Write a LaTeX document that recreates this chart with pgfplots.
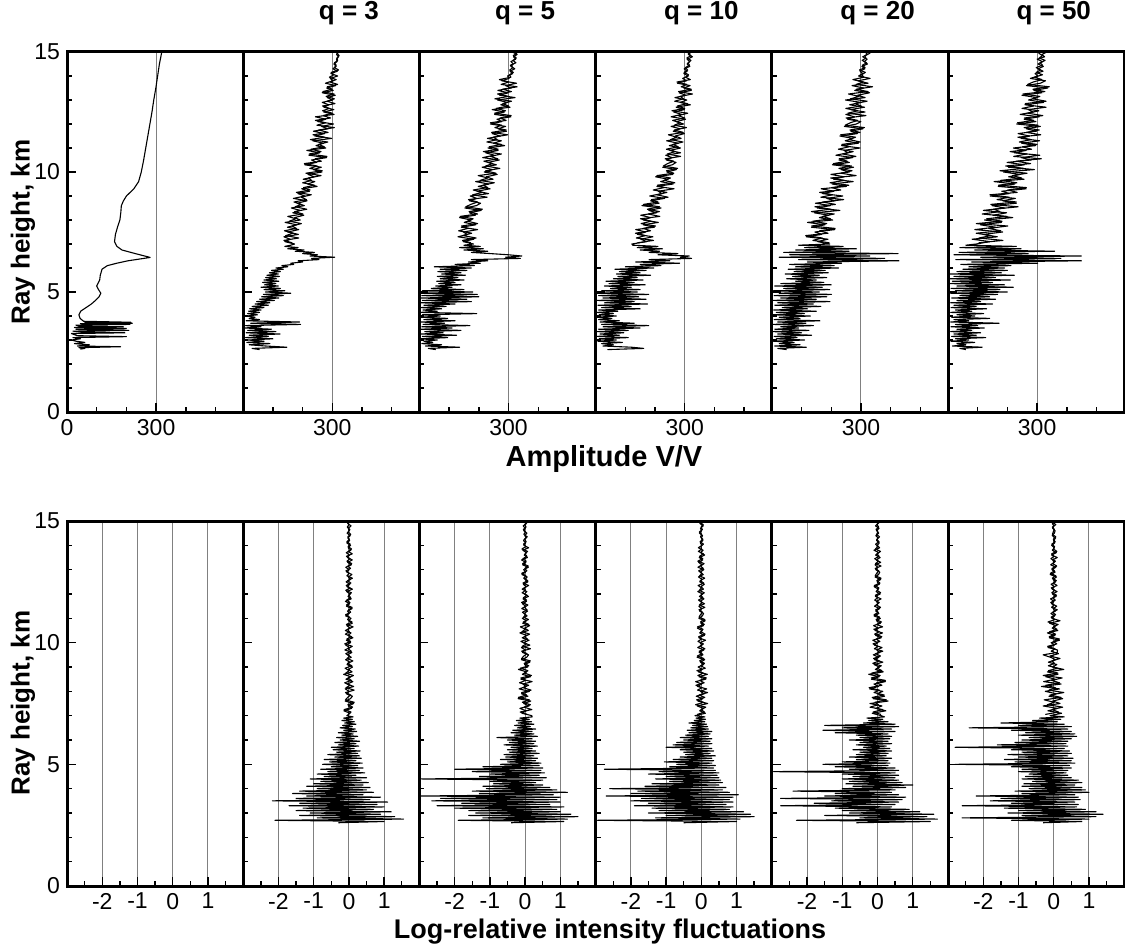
\documentclass[border=0pt]{standalone}
\usepackage{fontspec}
\setmainfont{Liberation Sans}
\usepackage{pgfplots}
\usepackage{pgfplotstable}
\pgfplotsset{compat=1.18}

% amplitude profiles, q = 3, 5, 10, 20, 50
\pgfplotstableread{
y a3 a5 a10 a20 a50
15.0 322 313 322 314 333
14.9 314 329 312 322 316
14.8 321 317 326 306 325
14.7 314 324 308 321 300
14.6 316 308 317 311 318
14.5 305 316 308 322 303
14.4 313 308 317 303 321
14.3 302 321 298 313 303
14.2 317 305 308 297 320
14.1 295 314 297 306 293
14.0 318 297 312 292 303
13.9 293 302 293 331 277
13.8 302 277 306 290 328
13.7 277 327 275 324 311
13.6 311 290 318 270 264
13.5 281 309 297 309 336
13.4 303 264 322 279 289
13.3 266 299 281 329 316
13.2 310 270 304 289 249
13.1 283 322 267 314 299
13.0 301 263 307 248 271
12.9 266 296 285 300 322
12.8 288 274 319 262 259
12.7 272 305 271 312 330
12.6 305 245 299 265 270
12.5 271 286 263 314 287
12.4 306 253 290 249 243
12.3 243 308 254 278 307
12.2 278 261 303 255 256
12.1 251 277 272 300 296
12.0 304 239 296 285 231
11.9 264 290 254 244 311
11.8 285 265 284 307 264
11.7 236 293 261 266 297
11.6 274 245 299 288 236
11.5 241 272 268 229 274
11.4 298 229 288 273 246
11.3 234 276 239 247 308
11.2 270 249 278 291 248
11.1 245 287 248 235 295
11.0 278 231 286 297 220
10.9 214 265 250 243 263
10.8 258 223 286 256 223
10.7 221 252 236 216 309
10.6 281 213 257 272 247
10.5 230 269 238 226 279
10.4 247 231 271 261 199
10.3 207 259 258 204 257
10.2 263 211 226 275 203
10.1 236 246 272 233 291
10.0 265 218 240 261 187
9.9 218 262 260 199 242
9.8 239 225 202 243 204
9.7 202 248 244 208 256
9.6 241 189 219 274 155
9.5 217 233 261 203 225
9.4 249 198 206 251 169
9.3 197 238 264 166 263
9.2 223 194 211 209 181
9.1 184 233 223 171 206
9.0 208 171 182 239 142
8.9 169 193 232 185 227
8.8 215 168 185 213 184
8.7 182 206 214 147 230
8.6 206 192 156 197 148
8.5 162 153 220 153 191
8.4 192 208 179 229 119
8.3 167 169 205 143 197
8.2 204 188 152 192 152
8.1 173 135 185 160 218
8.0 192 174 160 205 123
7.9 141 151 211 120 180
7.8 180 190 160 179 109
7.7 149 141 198 133 160
7.6 187 196 135 212 90
7.5 150 148 169 145 184
7.4 186 161 141 168 119
7.3 137 130 193 116 166
7.2 158 183 152 189 81
7.1 140 147 172 154 141
7.0 173 182 122 195 95
6.95 160 150 125 90 60
6.90 140 205 210 240 230
6.85 185 135 140 110 40
6.80 150 215 225 285 246
6.75 205 150 150 80 90
6.70 175 230 215 260 359
6.65 240 175 180 40 37
6.60 200 240 277 425 270
6.55 250 300 210 60 20
6.50 225 345 315 330 449
6.45 308 290 285 25 110
6.40 230 340 323 380 380
6.35 255 175 180 90 26
6.30 185 230 250 428 449
6.25 200 165 135 120 80
6.20 160 205 283 235 302
6.15 170 120 150 60 43
6.10 130 185 220 210 212
6.05 150 50 100 80 70
6.00 110 175 196 225 190
5.95 135 70 65 55 50
5.90 95 160 170 180 200
5.85 125 62 80 75 30
5.80 88 140 150 190 180
5.75 118 75 70 45 5
5.70 80 155 185 160 223
5.65 122 60 75 70 20
5.60 75 130 140 185 160
5.55 112 70 60 50 3
5.50 70 150 160 150 210
5.45 120 58 35 80 15
5.40 65 120 130 175 150
5.35 110 65 45 30 6
5.30 72 140 167 200 190
5.25 118 55 30 10 30
5.20 60 110 120 170 220
5.15 125 40 50 40 10
5.10 70 150 150 195 175
5.05 140 10 20 5 25
5.00 75 180 140 160 200
4.95 160 5 3 25 9
4.90 68 195 179 201 167
4.85 135 8 10 8 40
4.80 62 200 145 185 140
4.75 120 3 25 30 12
4.70 55 160 170 150 160
4.65 105 10 6 5 30
4.60 45 175 130 196 110
4.55 90 5 30 20 9
4.50 40 120 175 140 150
4.45 85 15 8 10 20
4.40 30 90 120 165 95
4.35 70 5 20 35 10
4.30 22 75 150 120 130
4.25 60 12 10 6 25
4.20 18 60 75 150 80
4.15 55 4 5 15 9
4.10 15 193 60 110 120
4.05 48 10 12 4 30
4.00 12 70 70 130 90
3.95 40 6 4 25 12
3.90 20 95 55 95 140
3.85 55 15 10 8 20
3.80 10 120 80 162 70
3.75 190 5 15 20 9
3.70 25 85 130 115 172
3.65 193 12 20 5 25
3.60 8 170 179 140 100
3.55 60 8 25 30 10
3.50 5 110 150 90 122
3.45 95 4 10 10 30
3.40 15 140 110 125 80
3.35 110 18 6 3 9
3.30 10 80 95 100 110
3.25 124 6 15 20 20
3.20 20 125 80 134 95
3.15 85 10 5 8 12
3.10 8 95 110 85 127
3.05 100 3 12 15 25
3.00 15 60 70 110 70
2.95 70 15 8 5 10
2.90 12 45 90 75 90
2.85 90 8 20 25 30
2.80 20 75 60 95 60
2.75 75 20 25 10 15
2.70 147 135 120 116 115
2.65 30 30 162 20 40
2.60 55 55 40 50 60
}\amptab

% amplitude samples between the 0.1 km rows above 7 km
\pgfplotstableread{
y a3 a5 a10 a20 a50
14.95 315 328 311 331 305
14.85 323 316 321 313 318
14.75 315 326 307 317 307
14.65 318 315 321 304 327
14.55 307 325 311 319 310
14.45 313 306 316 305 318
14.35 307 315 302 314 297
14.25 321 304 310 295 311
14.15 296 316 298 315 297
14.05 305 303 313 302 318
13.95 290 308 303 310 291
13.85 313 269 319 273 316
13.75 292 301 274 308 287
13.65 318 275 307 284 268
13.55 283 329 288 339 341
13.45 299 280 322 284 286
13.35 268 310 279 324 326
13.25 306 263 326 258 252
13.15 279 300 285 294 309
13.05 307 254 296 265 285
12.95 282 310 266 321 330
12.85 309 281 309 279 260
12.75 267 300 275 301 288
12.65 290 258 300 249 249
12.55 267 290 257 289 306
12.45 300 253 310 256 268
12.35 269 309 278 317 319
12.25 294 271 300 250 257
12.15 243 292 259 289 288
12.05 277 239 285 264 234
11.95 248 277 265 247 303
11.85 307 254 306 312 256
11.75 254 292 265 263 307
11.65 286 243 295 297 264
11.55 235 297 245 232 312
11.45 274 249 273 282 235
11.35 226 262 252 260 280
11.25 285 227 294 298 240
11.15 254 276 261 236 300
11.05 273 235 278 260 251
10.95 228 265 238 224 281
10.85 262 215 268 274 209
10.75 222 276 241 239 265
10.65 282 239 286 283 221
10.55 242 264 234 227 314
10.45 263 217 263 254 229
10.35 206 246 242 207 278
10.25 249 223 228 268 194
10.15 224 271 276 226 255
10.05 266 223 238 270 175
9.95 211 258 263 232 266
9.85 262 198 206 284 217
9.75 220 230 252 198 248
9.65 230 204 231 244 177
9.55 200 252 267 196 232
9.45 240 214 208 259 170
9.35 203 230 230 201 264
9.25 225 181 194 232 201
9.15 179 212 240 161 233
9.05 229 179 206 204 141
8.95 195 228 244 165 206
8.85 213 165 188 242 165
8.75 171 196 210 171 230
8.65 195 173 161 214 144
8.55 175 156 215 145 236
8.45 214 212 174 198 154
8.35 173 167 215 133 175
8.25 201 196 177 210 115
8.15 150 137 216 171 199
8.05 177 181 151 198 130
7.95 155 162 187 138 182
7.85 196 196 153 185 95
7.75 164 142 202 134 201
7.65 179 163 160 213 137
7.55 139 132 185 161 178
7.45 168 176 134 189 95
7.35 143 147 167 114 144
7.25 187 191 137 170 104
7.15 137 145 195 138 185
7.05 165 173 141 194 103
}\ampmid

% log-relative intensity fluctuations, q = 3, 5, 10, 20, 50
\pgfplotstableread{
y l3 l5 l10 l20 l50
15.0 0.045 -0.021 0.012 -0.045 0.054
14.9 -0.036 0.042 -0.042 0.009 -0.042
14.8 0.06 -0.054 0.054 -0.057 0.003
14.7 -0.018 0.003 -0.024 0.042 -0.03
14.6 0.006 -0.036 0.006 -0.018 0.039
14.5 -0.051 0.051 -0.054 0.033 0.018
14.4 0.036 -0.009 0.036 -0.048 -0.042
14.3 -0.03 0.027 -0.003 0.015 0.054
14.2 0.024 -0.048 0.048 -0.027 -0.006
14.1 -0.06 0.015 -0.03 0.051 0.03
14.0 0.048 -0.033 0.018 -0.006 -0.057
13.9 -0.02 0.1 -0.085 0.06 0.02
13.8 0.055 -0.065 0.05 -0.1 -0.04
13.7 -0.075 0.035 -0.02 0.035 0.075
13.6 0.015 -0.025 0.095 -0.055 -0.06
13.5 -0.045 0.065 -0.06 0.075 0.1
13.4 0.095 -0.1 0.04 -0.035 -0.03
13.3 -0.035 0.02 -0.075 0.09 0.01
13.2 0.07 -0.07 0.015 -0.07 -0.085
13.1 -0.09 0.09 -0.095 0.005 0.06
13.0 0.005 -0.04 0.07 -0.05 -0.05
12.9 -0.06 0.01 -0.03 0.065 0.04
12.8 0.085 -0.09 0.055 0.03 -0.1
12.7 -0.015 0.06 -0.08 -0.07 0.08
12.6 0.045 -0.005 0.025 0.09 -0.02
12.5 -0.08 0.08 -0.045 -0.01 0.055
12.4 0.025 -0.05 0.085 0.05 -0.075
12.3 -0.055 0.03 -0.01 -0.095 0.015
12.2 0.1 -0.085 0.06 0.02 -0.045
12.1 -0.065 0.05 -0.1 -0.04 0.095
12.0 0.035 -0.02 0.035 0.075 -0.035
11.9 -0.025 0.095 -0.055 -0.06 0.07
11.8 0.065 -0.06 0.075 0.1 -0.09
11.7 -0.1 0.04 -0.035 -0.03 0.005
11.6 0.02 -0.075 0.09 0.01 -0.06
11.5 -0.07 0.015 -0.07 -0.085 0.085
11.4 0.09 -0.095 0.005 0.06 -0.015
11.3 -0.04 0.07 -0.05 -0.05 0.045
11.2 0.01 -0.03 0.065 0.04 -0.08
11.1 -0.09 0.055 0.03 -0.1 0.025
11.0 0.06 -0.08 -0.07 0.08 -0.055
10.9 -0.006 0.038 0.108 -0.03 0.18
10.8 0.096 -0.068 -0.012 0.083 -0.117
10.7 -0.06 0.128 0.06 -0.113 0.063
10.6 0.036 -0.015 -0.114 0.023 -0.045
10.5 -0.102 0.09 0.024 -0.068 0.117
10.4 0.06 -0.15 -0.048 0.143 -0.18
10.3 -0.024 0.053 0.09 -0.053 0.036
10.2 0.114 -0.083 -0.072 0.105 -0.126
10.1 -0.072 0.113 0.12 -0.135 0.162
10.0 0.048 -0.053 -0.036 0.008 -0.072
9.9 -0.09 0.135 0.012 -0.09 0.018
9.8 0.018 -0.105 -0.102 0.128 -0.162
9.7 -0.114 0.008 0.072 -0.023 0.108
9.6 0.084 -0.075 -0.06 0.068 0.1
9.5 -0.036 0.098 0.048 -0.12 -0.3
9.4 0.066 0.045 -0.12 0.038 -0.09
9.3 -0.096 -0.105 0.096 -0.083 0.054
9.2 0.03 0.135 -0.024 0.15 -0.153
9.1 -0.054 -0.015 0.066 -0.098 0.09
9.0 0.102 0.075 -0.09 0.053 -0.036
8.9 -0.015 -0.19 0.027 -0.063 0.285
8.8 0.09 0.04 -0.081 0.163 -0.18
8.7 -0.15 -0.08 0.171 -0.25 0.12
8.6 0.053 0.15 -0.063 0.05 -0.225
8.5 -0.083 -0.12 0.126 -0.175 0.045
8.4 0.113 0.2 -0.162 0.225 -0.285
8.3 -0.053 -0.06 0.009 -0.1 0.21
8.2 0.135 0.02 -0.108 0.025 -0.35
8.1 -0.105 -0.17 0.153 -0.225 0.165
8.0 0.008 0.12 -0.027 0.15 -0.24
7.9 -0.075 -0.1 0.081 -0.013 0.075
7.8 0.098 0.08 -0.144 0.2 -0.135
7.7 0.045 -0.2 0.045 -0.125 0.255
7.6 -0.105 0.16 -0.099 0.3 -0.03
7.5 0.135 -0.04 0.18 -0.213 0.18
7.4 -0.015 0.11 -0.117 0.125 -0.3
7.3 0.075 -0.15 0.063 -0.05 0.105
7.2 -0.143 0.03 -0.045 0.238 -0.165
7.1 0.03 -0.09 0.117 -0.15 0.225
7.0 -0.06 0.19 -0.18 0.1 -0.105
6.95 0.12 0.2 0.1 0.2 0.3
6.90 -0.15 -0.15 -0.15 -0.3 -0.4
6.85 0.10 0.12 0.12 0.15 0.2
6.80 -0.2 -0.25 -0.2 -0.25 -0.6
6.75 0.15 0.18 0.1 0.3 0.1
6.70 -0.12 -0.2 -0.35 -0.4 -1.5
6.65 0.2 0.25 0.15 0.5 0.3
6.60 -0.18 -0.3 -0.25 -1.5 -1.0
6.55 0.1 0.15 0.18 0.6 0.5
6.50 -0.25 -0.22 -0.3 -1.0 -2.4
6.45 0.18 0.3 0.2 0.4 0.4
6.40 -0.15 -0.35 -0.4 -1.55 -1.2
6.35 0.22 0.2 0.3 0.5 0.5
6.30 -0.3 -0.4 -0.35 -1.2 -0.8
6.25 0.12 0.25 0.25 0.3 0.6
6.20 -0.2 -0.3 -0.45 -0.6 -1.0
6.15 0.25 0.35 0.2 0.4 0.65
6.10 -0.35 -0.8 -0.6 -0.5 -0.7
6.05 0.15 0.2 0.3 0.35 0.5
6.00 -0.25 -0.5 -0.5 -0.8 -0.9
5.95 0.3 0.3 0.25 0.3 0.4
5.90 -0.4 -0.45 -0.7 -0.5 -1.1
5.85 0.2 0.25 0.3 0.4 0.35
5.80 -0.3 -0.6 -0.8 -0.6 -1.6
5.75 0.28 0.35 0.2 0.25 0.4
5.70 -0.5 -0.4 -1.0 -0.4 -2.8
5.65 0.15 0.2 0.3 0.35 0.3
5.60 -0.45 -0.5 -0.6 -0.7 -1.2
5.55 0.32 0.3 0.35 0.4 0.45
5.50 -0.35 -0.45 -0.5 -0.5 -0.9
5.45 0.25 0.4 0.25 0.3 0.5
5.40 -0.6 -0.6 -0.45 -0.6 -1.3
5.35 0.3 0.25 0.4 0.25 0.4
5.30 -0.4 -0.55 -0.6 -0.8 -1.0
5.25 0.35 0.35 0.3 0.4 0.55
5.20 -0.7 -0.7 -0.8 -0.6 -1.4
5.15 0.2 0.3 0.35 0.3 0.5
5.10 -0.55 -0.5 -1.05 -1.0 -1.1
5.05 0.38 0.45 0.3 0.35 0.6
5.00 -0.75 -0.7 -0.7 -1.55 -2.8
4.95 0.25 0.4 0.4 0.3 0.45
4.90 -0.5 -1.2 -0.9 -1.2 -1.2
4.85 0.4 0.5 0.35 0.5 0.5
4.80 -0.8 -2.0 -2.75 -0.8 -0.9
4.75 0.3 0.45 0.4 0.6 0.4
4.70 -0.6 -1.5 -1.2 -2.95 -1.0
4.65 0.45 0.55 0.5 0.5 0.35
4.60 -0.9 -1.0 -1.5 -1.0 -0.7
4.55 0.2 0.4 0.45 0.6 0.4
4.50 -0.7 -1.3 -1.0 -0.7 -0.8
4.45 0.5 0.6 0.5 0.5 0.5
4.40 -1.1 -2.95 -1.3 -1.0 -0.9
4.35 0.35 0.5 0.55 0.6 0.7
4.30 -0.8 -1.0 -0.9 -0.8 -0.6
4.25 0.55 0.3 0.6 0.7 0.8
4.20 -1.0 -0.9 -1.4 -0.9 -0.85
4.15 0.4 0.5 0.5 1.0 0.6
4.10 -1.2 -1.2 -1.6 -0.7 -0.9
4.05 0.6 0.7 0.7 0.8 0.8
4.00 -0.9 -1.1 -2.6 -1.0 -0.7
3.95 0.5 0.9 0.6 0.5 0.9
3.90 -1.4 -1.5 -1.8 -2.4 -1.1
3.85 0.7 1.2 0.8 0.4 1.0
3.80 -1.6 -1.3 -2.0 -1.2 -0.9
3.75 0.4 0.8 1.05 0.6 0.6
3.70 -1.2 -2.95 -2.7 -1.5 -2.2
3.65 0.9 1.0 0.9 0.8 0.7
3.60 -1.5 -2.4 -1.7 -2.75 -1.5
3.55 0.6 0.9 0.8 0.7 0.75
3.50 -2.17 -2.65 -2.0 -1.3 -1.8
3.45 1.1 1.0 0.9 0.6 0.6
3.40 -1.4 -1.8 -1.5 -1.8 -1.2
3.35 0.8 0.7 0.7 0.5 0.7
3.30 -1.7 -2.5 -1.9 -2.75 -2.6
3.25 1.0 1.1 0.9 0.4 0.65
3.20 -1.3 -2.0 -1.4 -1.2 -1.4
3.15 0.7 0.9 0.8 0.9 0.9
3.10 -1.5 -1.6 -1.2 -1.0 -1.0
3.05 1.2 1.0 1.2 1.2 1.2
3.00 -1.1 -1.4 -1.5 -0.8 -1.3
2.95 0.9 1.3 1.4 1.6 1.4
2.90 -1.4 -1.6 -1.0 -1.5 -0.9
2.85 1.3 1.5 1.5 1.4 1.2
2.80 -0.9 -1.2 -1.3 -0.5 -2.6
2.75 1.55 1.2 1.1 1.7 1.0
2.70 -2.1 -1.9 -2.95 -2.3 -1.2
2.65 1.0 1.1 1.0 1.5 0.8
2.60 -0.3 -0.4 -0.5 -0.6 -0.3
}\logtab

% intensity samples between the 0.1 km rows above 7 km
\pgfplotstableread{
y l3 l5 l10 l20 l50
14.95 -0.036 0.048 -0.042 0.048 -0.033
14.85 0.003 -0.015 0.054 -0.012 0.06
14.75 -0.048 0.027 -0.006 0.033 -0.039
14.65 0.03 -0.051 0.03 -0.045 0.021
14.55 -0.018 0.006 -0.057 0.009 -0.015
14.45 0.051 -0.036 0.012 -0.027 -0.039
14.35 -0.03 0.06 -0.024 0.057 0.06
14.25 0.012 -0.021 0.045 -0.021 -0.012
14.15 -0.057 0.033 -0.036 0.042 0.042
14.05 0.036 -0.045 0.06 -0.054 -0.054
13.95 -0.024 0.021 -0.018 0.003 0.024
13.85 0.075 -0.09 0.01 -0.06 -0.01
13.75 -0.015 0.07 -0.085 0.085 0.09
13.65 0.095 -0.005 0.06 -0.015 -0.06
13.55 -0.07 0.05 -0.05 0.045 0.005
13.45 0.03 -0.065 0.04 -0.08 -0.08
13.35 -0.055 0.03 -0.1 0.025 0.05
13.25 0.08 -0.07 0.08 -0.055 -0.03
13.15 -0.025 0.09 -0.02 0.1 0.085
13.05 0.045 -0.01 0.055 -0.065 -0.05
12.95 -0.085 0.05 -0.075 0.035 0.02
12.85 0.01 -0.095 0.015 -0.025 -0.095
12.75 -0.06 0.02 -0.045 -0.065 0.06
12.65 0.1 -0.04 0.095 0.1 -0.04
12.55 -0.035 0.075 -0.035 -0.02 0.075
12.45 0.055 -0.06 0.07 0.07 -0.015
12.35 -0.075 0.1 -0.09 -0.09 0.095
12.25 0.035 -0.03 0.005 0.04 -0.07
12.15 -0.09 0.01 -0.06 -0.01 0.03
12.05 0.07 -0.085 0.085 0.09 -0.055
11.95 -0.005 0.06 -0.015 -0.06 0.08
11.85 0.05 -0.05 0.045 0.005 -0.025
11.75 -0.065 0.04 -0.08 -0.08 0.045
11.65 0.03 -0.1 0.025 0.05 -0.085
11.55 -0.07 0.08 -0.055 -0.03 0.01
11.45 0.09 -0.02 0.1 0.085 -0.06
11.35 -0.01 0.055 -0.065 -0.05 0.1
11.25 0.05 -0.075 0.035 0.02 -0.035
11.15 -0.095 0.015 -0.025 -0.095 0.055
11.05 0.02 -0.045 -0.065 0.06 -0.075
10.95 -0.04 0.095 0.1 -0.04 0.035
10.85 0.09 -0.053 -0.024 0.113 -0.162
10.75 -0.072 0.105 0.084 -0.023 0.126
10.65 0.12 -0.135 -0.108 0.143 -0.009
10.55 -0.036 0.008 0.048 -0.105 0.09
10.45 0.012 -0.09 -0.012 0.045 -0.117
10.35 -0.102 0.128 0.108 -0.083 0.054
10.25 0.072 -0.023 -0.072 0.12 -0.126
10.15 -0.06 0.068 0.006 -0.038 0.162
10.05 0.048 -0.12 -0.096 0.068 -0.018
9.95 -0.12 0.038 0.06 -0.128 0.09
9.85 0.096 -0.083 -0.036 0.015 -0.171
9.75 -0.024 0.15 0.102 -0.09 0.036
9.65 0.066 -0.098 -0.06 0.15 -0.072
9.55 -0.09 0.053 0.024 -0.053 0.135
9.45 0.018 -0.038 -0.114 0.083 -0.108
9.35 -0.054 -0.098 0.072 -0.113 0.18
9.25 0.114 0.15 -0.048 0.053 -0.054
9.15 -0.042 -0.03 0.09 -0.135 0.018
9.05 0.084 0.105 -0.018 0.105 -0.153
8.95 -0.108 -0.135 0.114 -0.008 0.108
8.85 0.008 0.08 -0.126 0.125 -0.15
8.75 -0.09 -0.02 0.054 -0.163 0.12
8.65 0.128 0.18 -0.099 0.075 -0.3
8.55 -0.023 -0.12 0.144 -0.175 0.24
8.45 0.068 0.01 -0.045 0.225 -0.06
8.35 -0.12 -0.16 0.081 -0.025 0.165
8.25 0.038 0.1 -0.153 0.125 -0.225
8.15 -0.083 -0.06 0.018 -0.238 0.045
8.05 0.15 0.17 -0.108 0.05 -0.135
7.95 -0.098 -0.1 0.18 -0.1 0.285
7.85 0.053 0.04 -0.063 0.188 -0.105
7.75 -0.038 -0.19 0.099 -0.15 0.21
7.65 -0.098 0.12 -0.135 0.25 -0.27
7.55 0.15 -0.08 0.063 -0.075 0.015
7.45 -0.03 0.15 -0.162 0.025 -0.18
7.35 0.105 -0.03 0.126 -0.213 0.255
7.25 -0.135 0.19 -0.009 0.15 -0.045
7.15 0.06 -0.14 0.09 -0.125 0.135
7.05 -0.015 0.06 -0.117 0.1 -0.24
}\logmid

\pgfplotsset{
  panel/.style={scale only axis, width=88.1pt, anchor=south west,
    ymin=0, ymax=15, axis line style={line width=1.5pt},
    tick align=inside, xtick pos=bottom, ytick pos=left,
    ytick={0,5,10,15}, minor ytick={1,2,3,4,6,7,8,9,11,12,13,14}, yticklabels={},
    major tick length=4.5pt, minor tick length=2.5pt,
    tick style={black, line width=0.7pt},
    xmajorgrids, major grid style={gray, line width=0.5pt},
    tick label style={font=\fontsize{11.5}{13}\selectfont}},
  amp/.style={panel, height=180pt, xmin=0, xmax=593,
    xtick={300}, xticklabels={300}, minor xtick={0,100,200,400,500}},
  lrf/.style={panel, height=182.5pt, xmin=-3, xmax=2,
    xtick={-2,-1,0,1}, xticklabels={-2,-1,0,1}, minor xtick={-2.5,-1.5,-0.5,0.5,1.5}},
  qtitle/.style={title={#1}, title style={at={(0.6,1)}, anchor=base, yshift=10pt,
    font=\bfseries\fontsize{13}{15}\selectfont}},
  prof/.style={black, line width=0.55pt, line join=round, no marks}
}

\begin{document}
\begin{tikzpicture}
\useasboundingbox (0,0) rectangle (562.5pt,475pt);

% top row: amplitude
\begin{axis}[amp, at={(33.5pt,269pt)}, xtick={0,300}, xticklabels={0,300}, yticklabels={0,5,10,15}]
\addplot[prof] coordinates {(319,15) (311,14.5) (305,14) (299,13.5) (292,13) (286,12.5) (279,12)
 (272,11.5) (265,11) (258,10.5) (250,10) (241,9.6) (225,9.3) (200,9.0) (190,8.8) (183,8.6)
 (181,8.3) (178,8.0) (170,7.7) (163,7.4) (160,7.1) (168,6.9) (185,6.75) (230,6.6) (280,6.44)
 (205,6.3) (168,6.2) (136,6.1) (118,5.95) (112,5.7) (110,5.5) (100,5.25) (106,5.1) (114,4.95)
 (108,4.8) (96,4.65) (82,4.5) (64,4.35) (46,4.2) (40,4.05) (44,3.9) (56,3.78) (215,3.74)
 (60,3.72) (220,3.70) (45,3.68) (212,3.65) (30,3.62) (40,3.58) (190,3.55) (25,3.52) (200,3.48)
 (30,3.45) (208,3.40) (20,3.37) (50,3.33) (195,3.30) (15,3.27) (25,3.22) (35,3.18) (200,3.14)
 (20,3.10) (45,3.05) (15,3.0) (30,2.95) (60,2.9) (25,2.85) (75,2.80) (35,2.75) (180,2.72)
 (40,2.68) (60,2.65) (45,2.62)};
\end{axis}
\begin{axis}[amp, qtitle={q = 3}, at={(121.6pt,269pt)}]
\addplot[prof] table[x=a3, y=y] {\amptab};
\addplot[prof] table[x=a3, y=y] {\ampmid};
\end{axis}
\begin{axis}[amp, qtitle={q = 5}, at={(209.7pt,269pt)}]
\addplot[prof] table[x=a5, y=y] {\amptab};
\addplot[prof] table[x=a5, y=y] {\ampmid};
\end{axis}
\begin{axis}[amp, qtitle={q = 10}, at={(297.8pt,269pt)}]
\addplot[prof] table[x=a10, y=y] {\amptab};
\addplot[prof] table[x=a10, y=y] {\ampmid};
\end{axis}
\begin{axis}[amp, qtitle={q = 20}, at={(385.9pt,269pt)}]
\addplot[prof] table[x=a20, y=y] {\amptab};
\addplot[prof] table[x=a20, y=y] {\ampmid};
\end{axis}
\begin{axis}[amp, qtitle={q = 50}, at={(474.0pt,269pt)}]
\addplot[prof] table[x=a50, y=y] {\amptab};
\addplot[prof] table[x=a50, y=y] {\ampmid};
\end{axis}

% bottom row: log-relative intensity
\begin{axis}[lrf, at={(33.5pt,32pt)}, yticklabels={0,5,10,15}]
\end{axis}
\begin{axis}[lrf, at={(121.6pt,32pt)}]
\addplot[prof] table[x=l3, y=y] {\logtab};
\addplot[prof] table[x=l3, y=y] {\logmid};
\end{axis}
\begin{axis}[lrf, at={(209.7pt,32pt)}]
\addplot[prof] table[x=l5, y=y] {\logtab};
\addplot[prof] table[x=l5, y=y] {\logmid};
\end{axis}
\begin{axis}[lrf, at={(297.8pt,32pt)}]
\addplot[prof] table[x=l10, y=y] {\logtab};
\addplot[prof] table[x=l10, y=y] {\logmid};
\end{axis}
\begin{axis}[lrf, at={(385.9pt,32pt)}]
\addplot[prof] table[x=l20, y=y] {\logtab};
\addplot[prof] table[x=l20, y=y] {\logmid};
\end{axis}
\begin{axis}[lrf, at={(474.0pt,32pt)}]
\addplot[prof] table[x=l50, y=y] {\logtab};
\addplot[prof] table[x=l50, y=y] {\logmid};
\end{axis}

\node[anchor=base, font=\bfseries\fontsize{14.5}{17}\selectfont] at (302pt,242pt) {Amplitude V/V};
\node[anchor=base, font=\bfseries\fontsize{13.5}{16}\selectfont] at (305pt,6pt) {Log-relative intensity fluctuations};
\node[font=\bfseries\fontsize{13}{15}\selectfont, rotate=90] at (11.5pt,359pt) {Ray height, km};
\node[font=\bfseries\fontsize{13}{15}\selectfont, rotate=90] at (11.5pt,123.5pt) {Ray height, km};
\end{tikzpicture}
\end{document}
